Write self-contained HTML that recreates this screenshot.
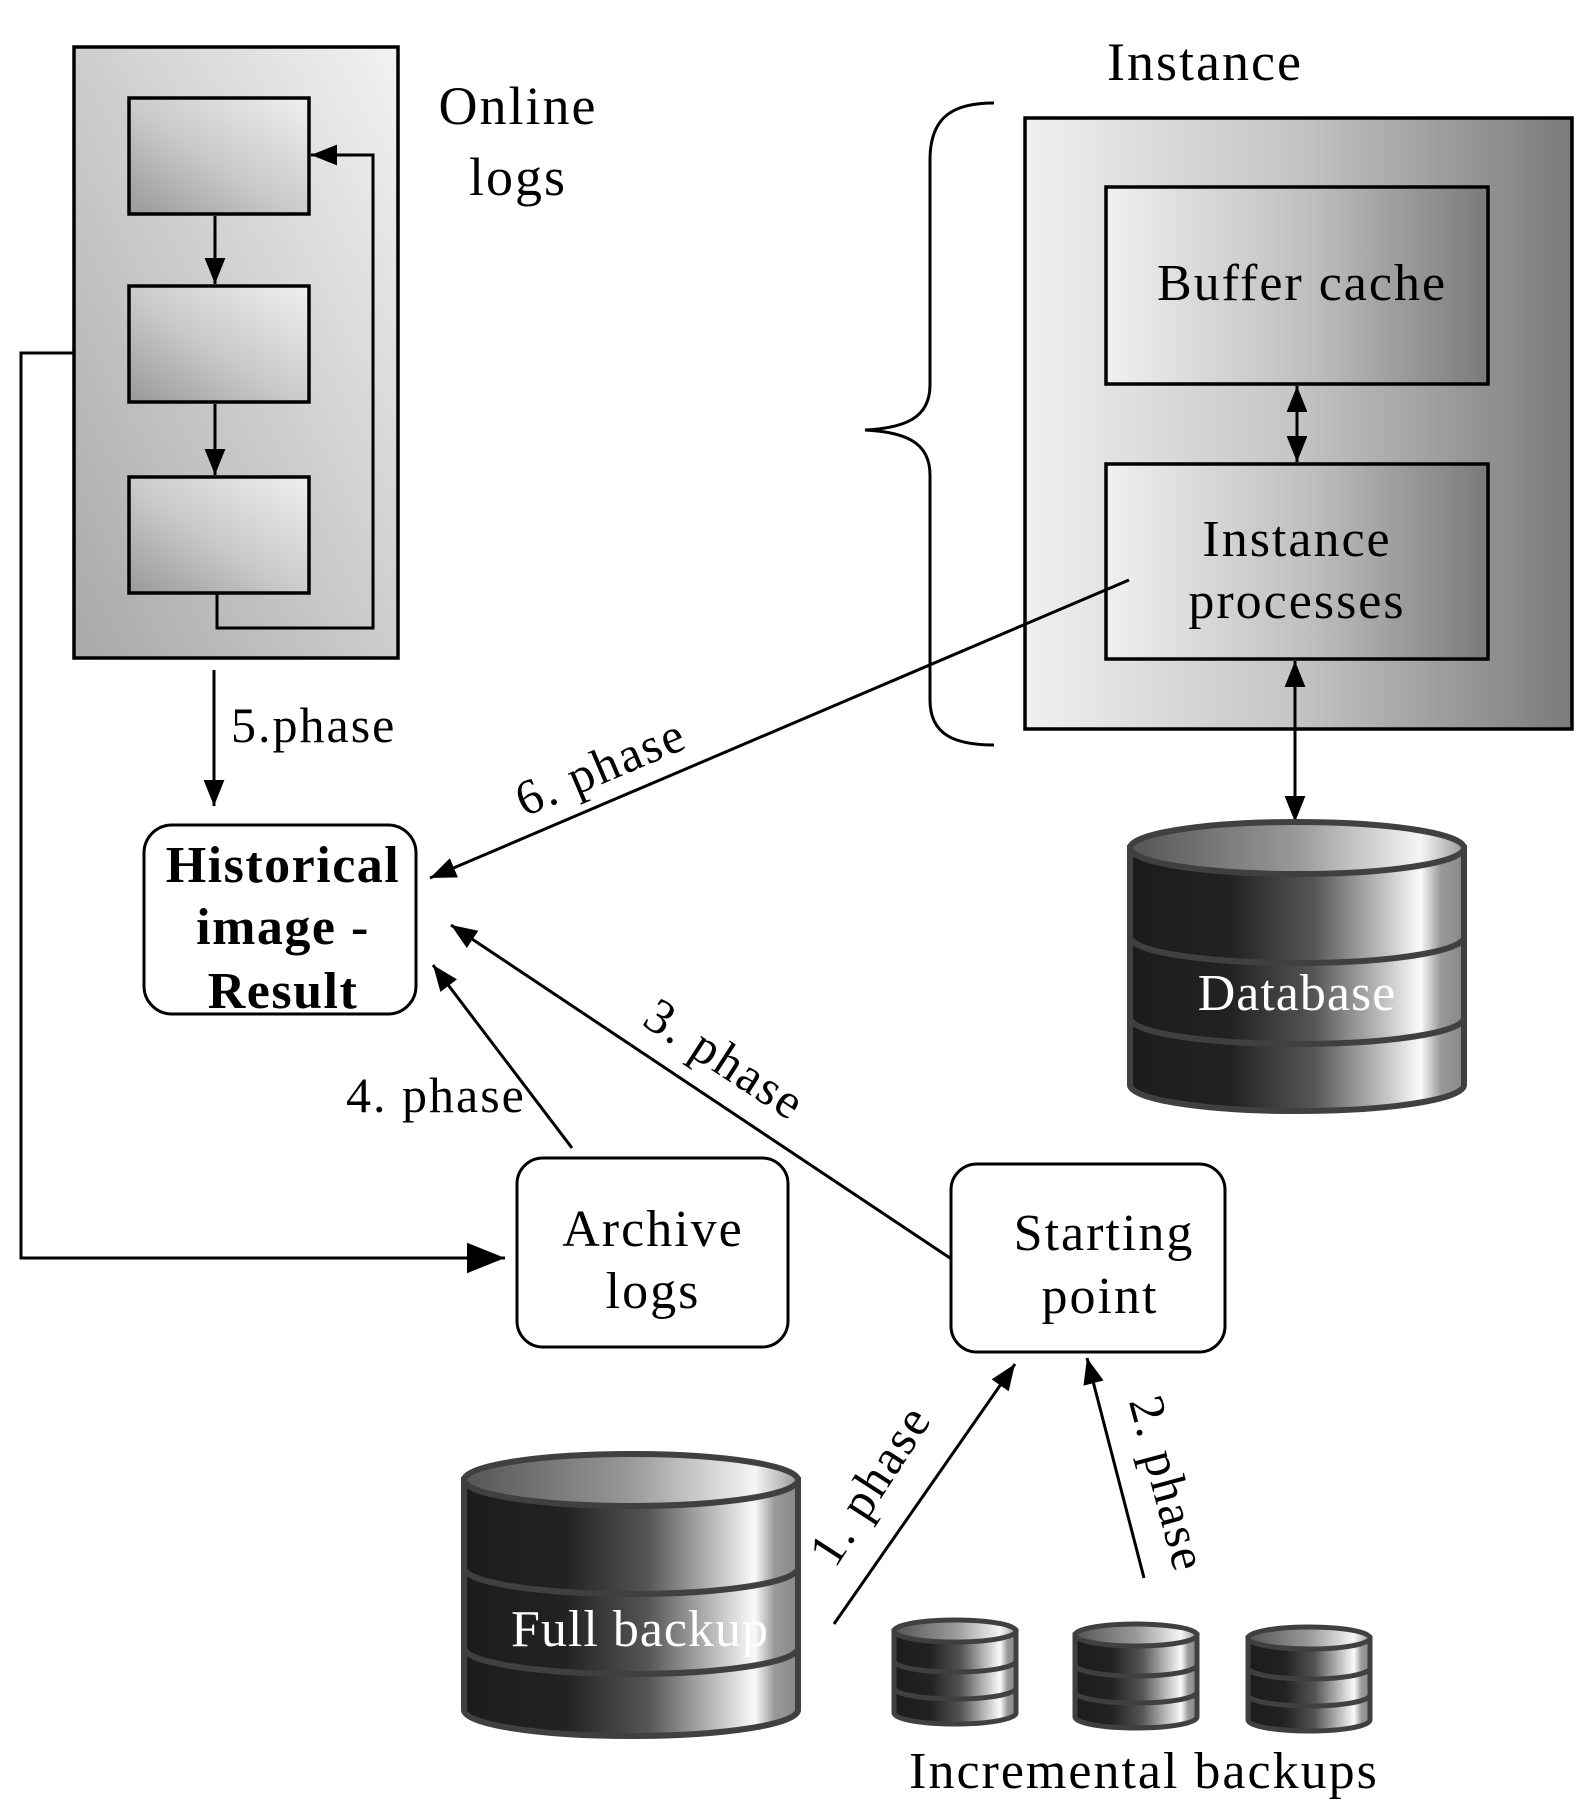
<!DOCTYPE html>
<html><head><meta charset="utf-8"><style>
html,body{margin:0;padding:0;background:#fff;}
svg{display:block;}
text{font-family:"Liberation Serif",serif;}
</style></head><body>
<svg width="1595" height="1816" viewBox="0 0 1595 1816" xmlns="http://www.w3.org/2000/svg">
<defs>
<linearGradient id="gOut" x1="1" y1="0" x2="0" y2="1"><stop offset="0" stop-color="#f2f2f2"/><stop offset="1" stop-color="#a8a8a8"/></linearGradient>
<linearGradient id="gIn" x1="1" y1="0" x2="0" y2="1"><stop offset="0" stop-color="#efefef"/><stop offset="0.55" stop-color="#c8c8c8"/><stop offset="1" stop-color="#999"/></linearGradient>
<linearGradient id="gInst" x1="0" y1="0" x2="1" y2="0"><stop offset="0" stop-color="#f0f0f0"/><stop offset="0.5" stop-color="#c4c4c4"/><stop offset="1" stop-color="#7a7a7a"/></linearGradient>
<linearGradient id="gBox" x1="0" y1="0" x2="1" y2="0"><stop offset="0" stop-color="#f0f0f0"/><stop offset="0.55" stop-color="#bdbdbd"/><stop offset="1" stop-color="#7a7a7a"/></linearGradient>
<linearGradient id="gCyl" x1="0" y1="0" x2="1" y2="0"><stop offset="0" stop-color="#1c1c1c"/><stop offset="0.3" stop-color="#222"/><stop offset="0.55" stop-color="#555"/><stop offset="0.87" stop-color="#fafafa"/><stop offset="0.93" stop-color="#999"/><stop offset="1" stop-color="#888"/></linearGradient>
<linearGradient id="gTop" x1="0" y1="0" x2="1" y2="0"><stop offset="0" stop-color="#555"/><stop offset="0.5" stop-color="#999"/><stop offset="0.87" stop-color="#f5f5f5"/><stop offset="1" stop-color="#999"/></linearGradient>
<marker id="a" viewBox="0 0 10 10" refX="10" refY="5" markerWidth="26" markerHeight="26" orient="auto" markerUnits="userSpaceOnUse"><path d="M0,1 L10,5 L0,9 Z" fill="#000"/></marker>
<marker id="as" viewBox="0 0 10 10" refX="0" refY="5" markerWidth="26" markerHeight="26" orient="auto" markerUnits="userSpaceOnUse"><path d="M10,1 L0,5 L10,9 Z" fill="#000"/></marker>
<marker id="ab" viewBox="0 0 10 10" refX="10" refY="5" markerWidth="38" markerHeight="38" orient="auto" markerUnits="userSpaceOnUse"><path d="M0,1 L10,5 L0,9 Z" fill="#000"/></marker>
</defs>

<rect x="74" y="47" width="324" height="611" fill="url(#gOut)" stroke="#000" stroke-width="3.5"/>
<rect x="129" y="98" width="180" height="116" fill="url(#gIn)" stroke="#000" stroke-width="3.5"/>
<rect x="129" y="286" width="180" height="116" fill="url(#gIn)" stroke="#000" stroke-width="3.5"/>
<rect x="129" y="477" width="180" height="116" fill="url(#gIn)" stroke="#000" stroke-width="3.5"/>
<line x1="215" y1="216" x2="215" y2="284" stroke="#000" stroke-width="3" marker-end="url(#a)"/>
<line x1="215" y1="404" x2="215" y2="475" stroke="#000" stroke-width="3" marker-end="url(#a)"/>
<polyline points="217,594 217,628 373,628 373,155 311,155" fill="none" stroke="#000" stroke-width="3" marker-end="url(#a)"/>
<g font-size="54" letter-spacing="2">
<text x="518" y="124" text-anchor="middle">Online</text>
<text x="518" y="195" text-anchor="middle">logs</text>
<text x="1205" y="80" text-anchor="middle">Instance</text>
</g>
<path d="M994,103 C955,103 930,115 930,160 L930,385 C930,418 905,428 865,430 C905,432 930,442 930,475 L930,700 C930,735 955,745 994,745" fill="none" stroke="#000" stroke-width="3"/>
<rect x="1025" y="118" width="547" height="611" fill="url(#gInst)" stroke="#000" stroke-width="3.5"/>
<rect x="1106" y="187" width="382" height="197" fill="url(#gBox)" stroke="#000" stroke-width="3.5"/>
<rect x="1106" y="464" width="382" height="195" fill="url(#gBox)" stroke="#000" stroke-width="3.5"/>
<g font-size="52" letter-spacing="2">
<text x="1302" y="300" text-anchor="middle">Buffer cache</text>
<text x="1297" y="556" text-anchor="middle">Instance</text>
<text x="1297" y="618" text-anchor="middle">processes</text>
</g>
<line x1="1297" y1="386" x2="1297" y2="462" stroke="#000" stroke-width="3" marker-end="url(#a)" marker-start="url(#as)"/>
<line x1="1295" y1="661" x2="1295" y2="822" stroke="#000" stroke-width="3" marker-end="url(#a)" marker-start="url(#as)"/>

<g stroke="#404040" stroke-width="6">
<path d="M1130,848 L1130,1085 A167,26 0 0 0 1464,1085 L1464,848 Z" fill="url(#gCyl)"/>
<ellipse cx="1297" cy="848" rx="167" ry="26" fill="url(#gTop)"/>
<path d="M1130,937 A167,26 0 0 0 1464,937" fill="none"/>
<path d="M1130,1018 A167,26 0 0 0 1464,1018" fill="none"/>
</g>
<text x="1297" y="1010" font-size="52" letter-spacing="1" fill="#fff" text-anchor="middle">Database</text>

<rect x="144" y="825" width="272" height="189" rx="28" fill="#fff" stroke="#000" stroke-width="3"/>
<g font-size="52" font-weight="bold" letter-spacing="1.5" text-anchor="middle">
<text x="283" y="882">Historical</text>
<text x="283" y="944">image -</text>
<text x="283" y="1008">Result</text>
</g>

<line x1="214" y1="670" x2="214" y2="806" stroke="#000" stroke-width="3" marker-end="url(#a)"/>
<line x1="1129" y1="580" x2="430" y2="878" stroke="#000" stroke-width="3" marker-end="url(#a)"/>
<line x1="950" y1="1258" x2="451" y2="925" stroke="#000" stroke-width="3" marker-end="url(#a)"/>
<line x1="572" y1="1148" x2="433" y2="965" stroke="#000" stroke-width="3" marker-end="url(#a)"/>
<line x1="834" y1="1624" x2="1015" y2="1364" stroke="#000" stroke-width="3" marker-end="url(#a)"/>
<line x1="1144" y1="1578" x2="1087" y2="1358" stroke="#000" stroke-width="3" marker-end="url(#a)"/>
<polyline points="74,353 21,353 21,1258 505,1258" fill="none" stroke="#000" stroke-width="3" marker-end="url(#ab)"/>

<g font-size="50" letter-spacing="2">
<text x="231" y="742">5.phase</text>
<text x="0" y="0" text-anchor="middle" transform="translate(607,782) rotate(-23)">6. phase</text>
<text x="0" y="0" text-anchor="middle" transform="translate(716,1073) rotate(33)">3. phase</text>
<text x="346" y="1112">4. phase</text>
<text x="0" y="0" text-anchor="middle" transform="translate(884,1494) rotate(-57)">1. phase</text>
<text x="0" y="0" text-anchor="middle" transform="translate(1152,1488) rotate(75)">2. phase</text>
</g>

<rect x="517" y="1158" width="271" height="189" rx="26" fill="#fff" stroke="#000" stroke-width="3"/>
<rect x="951" y="1164" width="274" height="188" rx="26" fill="#fff" stroke="#000" stroke-width="3"/>
<g font-size="52" letter-spacing="2" text-anchor="middle">
<text x="653" y="1246">Archive</text>
<text x="653" y="1308">logs</text>
<text x="1104" y="1250">Starting</text>
<text x="1100" y="1313">point</text>
</g>

<g stroke="#404040" stroke-width="6">
<path d="M464,1480 L464,1710 A167,26 0 0 0 798,1710 L798,1480 Z" fill="url(#gCyl)"/>
<ellipse cx="631" cy="1480" rx="167" ry="26" fill="url(#gTop)"/>
<path d="M464,1568 A167,26 0 0 0 798,1568" fill="none"/>
<path d="M464,1648 A167,26 0 0 0 798,1648" fill="none"/>
</g>
<text x="640" y="1646" font-size="52" letter-spacing="1" fill="#fff" text-anchor="middle">Full  backup</text>

<g stroke="#404040" stroke-width="5">
<g>
<path d="M894,1631 L894,1713 A61,11 0 0 0 1016,1713 L1016,1631 Z" fill="url(#gCyl)"/>
<ellipse cx="955" cy="1631" rx="61" ry="11" fill="url(#gTop)"/>
<path d="M894,1661 A61,11 0 0 0 1016,1661" fill="none"/><path d="M894,1688 A61,11 0 0 0 1016,1688" fill="none"/>
</g>
<g>
<path d="M1075,1635 L1075,1717 A61,11 0 0 0 1197,1717 L1197,1635 Z" fill="url(#gCyl)"/>
<ellipse cx="1136" cy="1635" rx="61" ry="11" fill="url(#gTop)"/>
<path d="M1075,1665 A61,11 0 0 0 1197,1665" fill="none"/><path d="M1075,1692 A61,11 0 0 0 1197,1692" fill="none"/>
</g>
<g>
<path d="M1248,1638 L1248,1720 A61,11 0 0 0 1370,1720 L1370,1638 Z" fill="url(#gCyl)"/>
<ellipse cx="1309" cy="1638" rx="61" ry="11" fill="url(#gTop)"/>
<path d="M1248,1668 A61,11 0 0 0 1370,1668" fill="none"/><path d="M1248,1695 A61,11 0 0 0 1370,1695" fill="none"/>
</g>
</g>
<text x="1144" y="1788" font-size="52" letter-spacing="2" text-anchor="middle">Incremental backups</text>
</svg>
</body></html>
